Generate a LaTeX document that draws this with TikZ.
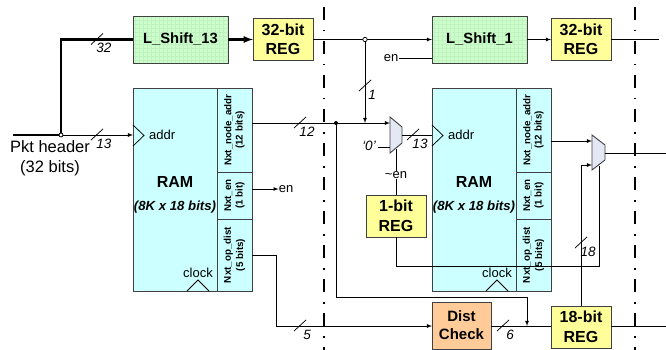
\documentclass[tikz,border=0pt]{standalone}
\usepackage{fontspec}
\setmainfont{Liberation Sans}
\usetikzlibrary{arrows, positioning}

\definecolor{shiftgreen}{HTML}{CCFFCC}
\definecolor{shiftgrid}{HTML}{BFF2BF}
\definecolor{regyellow}{HTML}{FFFF99}
\definecolor{ramcyan}{HTML}{CCFFFF}
\definecolor{distorange}{HTML}{FFCC99}
\definecolor{muxblue}{HTML}{E4E8F4}
\definecolor{edgegray}{HTML}{404040}

\begin{document}
\begin{tikzpicture}[x=1pt, y=-1pt, >=latex]
        \tikzstyle{block} = [rectangle, draw=edgegray, line width=0.9pt, inner sep=0pt, outer sep=0pt, align=center]
        \tikzstyle{shifter} = [block, fill=shiftgreen, minimum width=95pt, minimum height=47pt, font=\fontsize{14.8}{17}\selectfont\bfseries,
            path picture={\draw [shiftgrid, line width=0.3pt, step=4pt] (path picture bounding box.south west) grid (path picture bounding box.north east);}]
        \tikzstyle{reg} = [block, fill=regyellow, minimum width=60pt, minimum height=42pt, font=\fontsize{16}{19.5}\selectfont\bfseries]
        \tikzstyle{ram} = [block, fill=ramcyan, minimum width=119pt, minimum height=203pt]
        \tikzstyle{cell} = [block, minimum width=35pt, font=\fontsize{9.8}{10.5}\selectfont\bfseries]
        \tikzstyle{plain} = [inner sep=0pt, align=center, font=\fontsize{13}{15}\selectfont]
        \tikzstyle{buslabel} = [inner sep=0pt, font=\fontsize{13.5}{15}\selectfont\itshape]
        \tikzstyle{wire} = [line width=0.75pt, black]
        \tikzstyle{bigwire} = [line width=2.2pt, black]
        \tikzstyle{mux} = [draw=edgegray, line width=0.9pt, fill=muxblue]
        \tikzstyle{phase} = [line width=1.2pt, black, dash pattern=on 13pt off 10pt on 1.5pt off 9.5pt]

        \useasboundingbox (0,0) rectangle (666,350);

        % top row
        \node (shiftA) [shifter, anchor=north west] at (133,16) {L\_Shift\_13};
        \node (regA) [reg, right=25pt of shiftA] {32-bit\\REG};
        \node (shiftB) [shifter, anchor=north west] at (432,16) {L\_Shift\_1};
        \node (regB) [reg, right=24pt of shiftB] {32-bit\\REG};

        % the two memories
        \foreach \r/\x in {A/133, B/432} {
            \node (ram\r) [ram, anchor=north west] at (\x,88) {};
            \node (addr\r) [cell, minimum height=84pt, anchor=north east] at (ram\r.north east)
                {\rotatebox{90}{\shortstack{Nxt\_node\_addr\\(12 bits)}}};
            \node (nxten\r) [cell, minimum height=47pt, below=0pt of addr\r]
                {\rotatebox{90}{\shortstack{Nxt\_en\\(1 bit)}}};
            \node (opdist\r) [cell, minimum height=72pt, below=0pt of nxten\r]
                {\rotatebox{90}{\shortstack{Nxt\_op\_dist\\(5 bits)}}};
            \node (ramname\r) [plain, font=\fontsize{16}{18}\selectfont\bfseries] at (\x+42,182) {RAM};
            \node (ramsize\r) [plain, font=\fontsize{13.2}{15}\selectfont\bfseries\itshape] at (\x+42,207) {(8K x 18 bits)};
            \node (addrtxt\r) [plain, anchor=west] at (\x+16,135) {addr};
            \node (clock\r) [plain] at (\x+65,272.5) {clock};
            \draw [wire] (\x,125) -- (\x+11,135.5) -- (\x,146);
            \draw [wire] (\x+54,291) -- (\x+65,280) -- (\x+76,291);
        }

        % lower blocks
        \node (regOne) [reg, anchor=north west] at (366,195) {1-bit\\REG};
        \node (distchk) [block, fill=distorange, minimum width=59pt, minimum height=47pt, anchor=north west,
            font=\fontsize{15}{18}\selectfont\bfseries] at (432,302) {Dist\\Check};
        \node (regC) [reg, anchor=north west] at (551,306) {18-bit\\REG};

        % multiplexers
        \draw [mux] (390,117) -- (402,127) -- (402,143) -- (390,153) -- cycle;
        \draw [mux] (592,135) -- (605,145) -- (605,160) -- (592,170) -- cycle;

        % text
        \node (pkt) [plain, font=\fontsize{16.5}{20}\selectfont] at (50,158) {Pkt header\\(32 bits)};
        \node (enA) [plain] at (286,189) {en};
        \node (enB) [plain] at (391,58) {en};
        \node (zero) [buslabel] at (369,146) {`0'};
        \node (notEn) [plain] at (396,175) {\textasciitilde en};

        % named points
        \coordinate (pktin) at (13,135);
        \coordinate (split) at (61,135);
        \coordinate (dotB) at (365,39.5);
        \coordinate (dotC) at (336,123);
        \coordinate (muxAup) at (390,123);
        \coordinate (muxAlow) at (390,147);
        \coordinate (muxAout) at (402,135);
        \coordinate (muxBup) at (592,141);
        \coordinate (muxBlow) at (592,165);
        \coordinate (muxBout) at (605,153);

        % bold header wires
        \draw [bigwire] (pktin) -- (split);
        \draw [bigwire] (split) |- (shiftA.west);
        \draw [bigwire, ->] (shiftA.east) -- (regA.west);

        % wires
        \draw [wire, ->] (split) -- (ramA.west |- split);
        \draw [wire] (regA.east) -- (dotB);
        \draw [wire, ->] (dotB) -- (shiftB.west);
        \draw [wire, ->] (shiftB.east) -- (regB.west);
        \draw [wire] (regB.east) -- (659,39.5);
        \draw [wire, ->] (dotB) -- (dotB |- dotC);
        \draw [wire] (enB.east) ++(1,0) -- (shiftB.west |- enB);
        \draw [wire, ->] (addrA.east |- dotC) -- (muxAup);
        \draw [wire] (zero.east) ++(2,1) -- (muxAlow);
        \draw [wire] (muxAout) -- (ramB.west |- muxAout);
        \draw [wire] (396,149) -- (notEn.north);
        \draw [wire] (notEn.south) -- (regOne.north);
        \draw [wire, ->] (nxtenA.east |- enA) -- (enA.west);
        \draw [wire] (opdistA.east) -- (276,255) -- (276,326);
        \draw [wire, ->] (276,326) -- (distchk.west |- 0,326);
        \draw [wire] (distchk.east |- 0,326) -- (regC.west |- 0,326);
        \draw [wire] (regC.east |- 0,326) -- (666,326);
        \draw [wire] (dotC) -- (336,297) -- (527,297);
        \draw [wire, ->] (527,297) -- (527,326);
        \draw [wire, ->] (addrB.east |- muxBup) -- (muxBup);
        \draw [wire] (regC.north -| 581,0) -- (581,165);
        \draw [wire, ->] (581,165) -- (muxBlow);
        \draw [wire] (regOne.south) -- (396,266.5) -- (599,266.5) -- (599,165.5);
        \draw [wire] (muxBout) -- (666,153);

        % junctions
        \fill [black] (dotC) circle (2pt);
        \draw [wire, fill=white] (split) circle (2pt);
        \draw [wire, fill=white] (dotB) circle (2.2pt);

        % bus marks
        \foreach \px/\py/\txt/\nm in {97/39.5/32/a, 97/135/13/b, 300/123/12/c, 300/326/5/d,
                                      365/86/1/e, 413/135/13/f, 503/326/6/g, 581/243/18/h} {
            \draw [wire] (\px-6,\py+5) -- (\px+6,\py-6);
            \node (bus\nm) [buslabel] at (\px+7,\py+8.5) {\txt};
        }

        % stage boundaries
        \draw [phase] (324,7) -- (324,350);
        \draw [phase] (635,7) -- (635,350);
    \end{tikzpicture}
\end{document}
